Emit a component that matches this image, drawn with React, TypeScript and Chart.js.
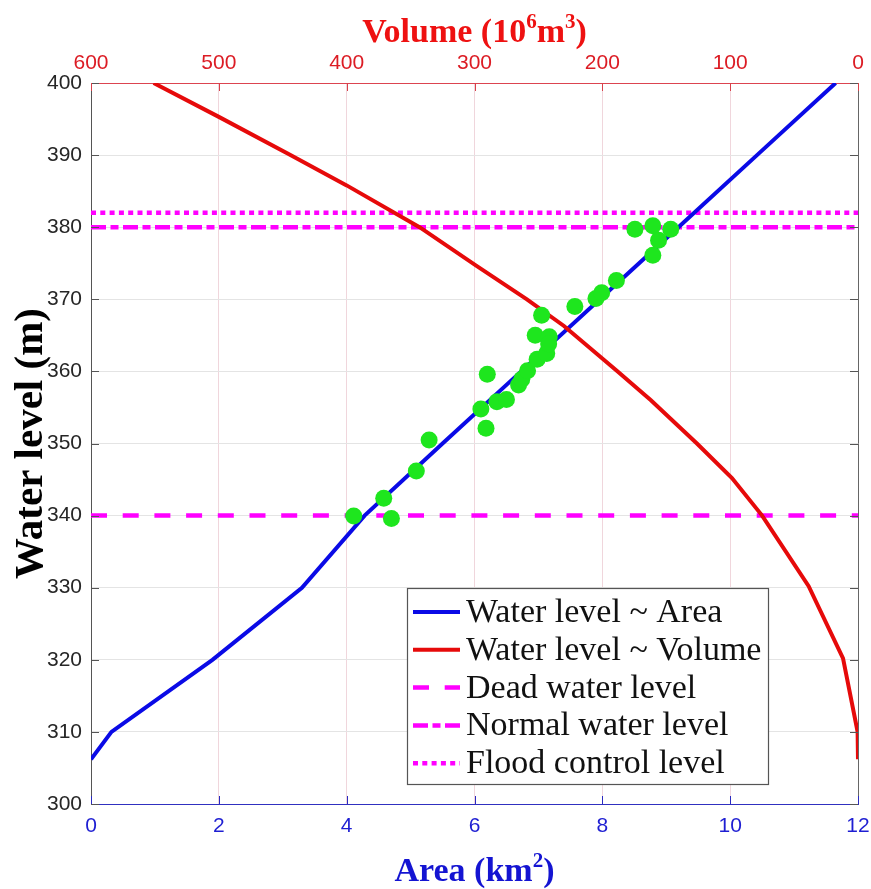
import React, { useEffect, useRef } from 'react';
import { Chart, registerables } from 'chart.js';

Chart.register(...registerables);

// ---------- data ----------
const areaLevels = [306.2, 310, 320, 330, 340, 350, 360, 370, 380, 390, 400];
const areaValues = [0, 0.32, 1.9, 3.3, 4.28, 5.5, 6.73, 7.96, 9.19, 10.42, 11.65];

const volumeLevels = [306.2, 310, 320.2, 330.2, 340, 345.2, 350, 356, 360, 366.3, 370, 374.7, 380, 385.8, 390, 395.3, 400];
const volumeValues = [0, 0.3, 11.7, 38.6, 75, 98.6, 126, 162, 188, 230, 259, 299, 343, 400, 444, 500, 551];

const obsArea = [4.11, 4.58, 4.7, 5.09, 5.29, 6.1, 6.18, 6.2, 6.35, 6.5, 6.69, 6.74, 6.83, 6.98, 7.13, 6.95, 7.17, 7.16, 7.05, 7.57, 7.9, 7.99, 8.22, 8.51, 8.79, 9.07, 8.88, 8.79];
const obsLevel = [339.95, 342.4, 339.6, 346.2, 350.5, 354.8, 352.1, 359.6, 355.8, 356.1, 358.1, 358.9, 360.1, 361.7, 362.5, 365.0, 364.8, 363.8, 367.8, 369.0, 370.1, 370.9, 372.6, 379.7, 380.2, 379.7, 378.2, 376.1];

const deadLevel = 340;
const normalLevel = 380;
const floodLevel = 382;

const areaRange = [0, 12];
const areaStep = 2;
const volumeRange = [0, 600];
const volumeStep = 100;
const levelRange = [300, 400];
const levelStep = 10;

const legendLabels = [
  'Water level ~ Area',
  'Water level ~ Volume',
  'Dead water level',
  'Normal water level',
  'Flood control level',
];

const volumeTitle = [{ t: 'Volume (10' }, { t: '6', sup: true }, { t: 'm' }, { t: '3', sup: true }, { t: ')' }];
const areaTitle = [{ t: 'Area (km' }, { t: '2', sup: true }, { t: ')' }];
const levelTitle = 'Water level (m)';

// ---------- styles ----------
const BLUE = '#0a0ae6';
const RED = '#e60a0a';
const MAGENTA = '#ff00ff';
const GREEN = '#1ee61e';
const SERIF = '"Liberation Serif", "Times New Roman", serif';
const SANS = '"Liberation Sans", Arial, sans-serif';

type Part = { t: string; sup?: boolean };

function drawRich(ctx: CanvasRenderingContext2D, parts: Part[], cx: number, baseline: number, size: number, color: string) {
  const baseFont = `bold ${size}px ${SERIF}`;
  const supFont = `bold ${Math.round(size * 0.62)}px ${SERIF}`;
  const widths = parts.map((p) => {
    ctx.font = p.sup ? supFont : baseFont;
    return ctx.measureText(p.t).width;
  });
  const total = widths.reduce((a, b) => a + b, 0);
  let x = cx - total / 2;
  ctx.fillStyle = color;
  ctx.textAlign = 'left';
  ctx.textBaseline = 'alphabetic';
  parts.forEach((p, i) => {
    ctx.font = p.sup ? supFont : baseFont;
    ctx.fillText(p.t, x, p.sup ? baseline - size * 0.42 : baseline);
    x += widths[i];
  });
}

const decorPlugin = {
  id: 'decor',
  afterDraw(chart: any) {
    const { ctx, chartArea: ca, scales } = chart;
    const sx = scales.x;
    const sx2 = scales.x2;
    const sy = scales.y;
    ctx.save();

    // right border
    ctx.strokeStyle = '#666666';
    ctx.lineWidth = 1;
    ctx.beginPath();
    ctx.moveTo(ca.right + 0.5, ca.top);
    ctx.lineTo(ca.right + 0.5, ca.bottom);
    ctx.stroke();

    const tl = 8;
    // inward ticks left/right
    ctx.strokeStyle = '#555555';
    sy.ticks.forEach((t: any) => {
      const y = Math.round(sy.getPixelForValue(t.value)) + 0.5;
      ctx.beginPath();
      ctx.moveTo(ca.left, y);
      ctx.lineTo(ca.left + tl, y);
      ctx.moveTo(ca.right, y);
      ctx.lineTo(ca.right - tl, y);
      ctx.stroke();
    });
    // bottom ticks (blue)
    ctx.strokeStyle = '#2a2ac0';
    sx.ticks.forEach((t: any) => {
      const x = Math.round(sx.getPixelForValue(t.value)) + 0.5;
      ctx.beginPath();
      ctx.moveTo(x, ca.bottom);
      ctx.lineTo(x, ca.bottom - tl);
      ctx.stroke();
    });
    // top ticks (red)
    ctx.strokeStyle = '#d8404a';
    sx2.ticks.forEach((t: any) => {
      const x = Math.round(sx2.getPixelForValue(t.value)) + 0.5;
      ctx.beginPath();
      ctx.moveTo(x, ca.top);
      ctx.lineTo(x, ca.top + tl);
      ctx.stroke();
    });

    // axis titles
    const cx = (ca.left + ca.right) / 2;
    drawRich(ctx, volumeTitle, cx, ca.top - 41, 34, '#ee1111');
    drawRich(ctx, areaTitle, cx, ca.bottom + 77, 34, '#1414d2');

    ctx.save();
    ctx.translate(ca.left - 49, (ca.top + ca.bottom) / 2);
    ctx.rotate(-Math.PI / 2);
    ctx.font = `bold 41px ${SERIF}`;
    ctx.fillStyle = '#000000';
    ctx.textAlign = 'center';
    ctx.textBaseline = 'alphabetic';
    ctx.fillText(levelTitle, 0, 0);
    ctx.restore();

    // legend box
    const bx = ca.left + 316;
    const by = ca.top + 505;
    const bw = 361;
    const bh = 196;
    ctx.fillStyle = '#ffffff';
    ctx.fillRect(bx, by, bw, bh);
    ctx.strokeStyle = '#555555';
    ctx.lineWidth = 1.2;
    ctx.setLineDash([]);
    ctx.strokeRect(bx + 0.5, by + 0.5, bw, bh);

    const lineDatasets = chart.data.datasets.filter((d: any) => d.inLegend);
    lineDatasets.forEach((d: any, i: number) => {
      const y = by + 24 + i * 37.8;
      ctx.strokeStyle = d.borderColor;
      ctx.lineWidth = d.borderWidth;
      ctx.setLineDash(d.borderDash || []);
      ctx.lineCap = 'butt';
      ctx.beginPath();
      ctx.moveTo(bx + 6, y);
      ctx.lineTo(bx + 53, y);
      ctx.stroke();
      ctx.setLineDash([]);
      ctx.fillStyle = '#111111';
      ctx.font = `34px ${SERIF}`;
      ctx.textAlign = 'left';
      ctx.textBaseline = 'middle';
      ctx.fillText(legendLabels[i], bx + 59, y + 1);
    });

    ctx.restore();
  },
};

export default function App() {
  const ref = useRef<HTMLCanvasElement | null>(null);

  useEffect(() => {
    if (!ref.current) return;
    const areaCurve = areaLevels.map((lv, i) => ({ x: areaValues[i], y: lv }));
    const volumeCurve = volumeLevels.map((lv, i) => ({ x: volumeValues[i], y: lv }));
    const observed = obsArea.map((a, i) => ({ x: a, y: obsLevel[i] }));
    const hLine = (lv: number) => [
      { x: areaRange[0], y: lv },
      { x: areaRange[1], y: lv },
    ];

    const chart = new Chart(ref.current, {
      type: 'scatter',
      data: {
        datasets: [
          {
            label: 'Observed',
            data: observed,
            xAxisID: 'x',
            yAxisID: 'y',
            pointRadius: 8.5,
            pointBackgroundColor: GREEN,
            pointBorderWidth: 0,
            pointBorderColor: GREEN,
            showLine: false,
            order: 0,
          },
          {
            label: legendLabels[0],
            data: areaCurve,
            xAxisID: 'x',
            yAxisID: 'y',
            showLine: true,
            borderColor: BLUE,
            borderWidth: 4,
            pointRadius: 0,
            order: 2,
            inLegend: true,
          } as any,
          {
            label: legendLabels[1],
            data: volumeCurve,
            xAxisID: 'x2',
            yAxisID: 'y',
            showLine: true,
            borderColor: RED,
            borderWidth: 4,
            pointRadius: 0,
            order: 1,
            inLegend: true,
          } as any,
          {
            label: legendLabels[2],
            data: hLine(deadLevel),
            xAxisID: 'x',
            yAxisID: 'y',
            showLine: true,
            borderColor: MAGENTA,
            borderWidth: 4.5,
            borderDash: [16, 15.7],
            pointRadius: 0,
            order: 3,
            inLegend: true,
          } as any,
          {
            label: legendLabels[3],
            data: hLine(normalLevel),
            xAxisID: 'x',
            yAxisID: 'y',
            showLine: true,
            borderColor: MAGENTA,
            borderWidth: 4.5,
            borderDash: [15, 4.5, 8, 4.5],
            pointRadius: 0,
            order: 3,
            inLegend: true,
          } as any,
          {
            label: legendLabels[4],
            data: hLine(floodLevel),
            xAxisID: 'x',
            yAxisID: 'y',
            showLine: true,
            borderColor: MAGENTA,
            borderWidth: 4.5,
            borderDash: [5, 4.3],
            pointRadius: 0,
            order: 3,
            inLegend: true,
          } as any,
        ],
      },
      options: {
        responsive: false,
        animation: false,
        events: [],
        layout: { padding: { left: 0, top: 0, right: 13, bottom: 0 }, autoPadding: false } as any,
        plugins: {
          legend: { display: false },
          tooltip: { enabled: false },
          title: { display: false },
        },
        scales: {
          x: {
            type: 'linear',
            position: 'bottom',
            min: areaRange[0],
            max: areaRange[1],
            ticks: {
              stepSize: areaStep,
              autoSkip: false,
              maxRotation: 0,
              color: '#1e1ed2',
              padding: 10,
              font: { family: SANS, size: 21 },
            },
            grid: { color: '#f0d6dc', lineWidth: 1, drawTicks: false },
            border: { display: true, color: '#3030c0', width: 1 },
            afterFit: (s: any) => {
              s.height = 85;
              s.paddingLeft = 0;
              s.paddingRight = 0;
            },
          },
          x2: {
            type: 'linear',
            position: 'top',
            min: volumeRange[0],
            max: volumeRange[1],
            reverse: true,
            ticks: {
              stepSize: volumeStep,
              autoSkip: false,
              maxRotation: 0,
              color: '#dc1c24',
              padding: 7,
              font: { family: SANS, size: 21 },
            },
            grid: { display: false, drawTicks: false },
            border: { display: true, color: '#dc4450', width: 1 },
            afterFit: (s: any) => {
              s.height = 83;
              s.paddingLeft = 0;
              s.paddingRight = 0;
            },
          },
          y: {
            type: 'linear',
            position: 'left',
            min: levelRange[0],
            max: levelRange[1],
            ticks: {
              stepSize: levelStep,
              autoSkip: false,
              color: '#262626',
              padding: 9,
              font: { family: SANS, size: 21 },
            },
            grid: { color: '#e4e4e4', lineWidth: 1, drawTicks: false },
            border: { display: true, color: '#555555', width: 1 },
            afterFit: (s: any) => {
              s.width = 91;
              s.paddingTop = 0;
              s.paddingBottom = 0;
            },
          },
        },
      } as any,
      plugins: [decorPlugin],
    });
    return () => chart.destroy();
  }, []);

  return (
    <div style={{ position: 'absolute', left: 0, top: 0, width: 871, height: 889, background: '#ffffff' }}>
      <canvas ref={ref} width={871} height={889} style={{ width: 871, height: 889, display: 'block' }} />
    </div>
  );
}
